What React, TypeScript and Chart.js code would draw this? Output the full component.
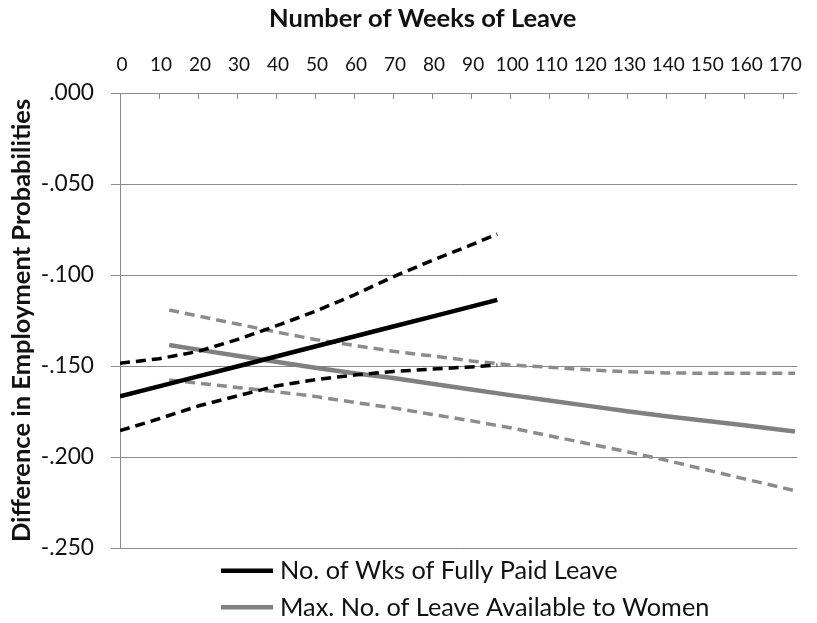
import React, { useEffect, useRef } from 'react';
import { Chart, registerables } from 'chart.js';

Chart.register(...registerables);

// ---- Data ----
const xTitle = 'Number of Weeks of Leave';
const yTitle = 'Difference in Employment Probabilities';
const legendLabels = ['No. of Wks of Fully Paid Leave', 'Max. No. of Leave Available to Women'];

const xTickValues = [0, 10, 20, 30, 40, 50, 60, 70, 80, 90, 100, 110, 120, 130, 140, 150, 160, 170];

const fullyPaidWeeks = [0, 10, 20, 30, 40, 50, 60, 70, 80, 90, 96.7];
const fullyPaidEst = [-0.1667, -0.1612, -0.1557, -0.1503, -0.1448, -0.1393, -0.1338, -0.1283, -0.1229, -0.1174, -0.1137];
const fullyPaidUpper = [-0.1485, -0.146, -0.142, -0.1355, -0.128, -0.12, -0.111, -0.101, -0.092, -0.0835, -0.0775];
const fullyPaidLower = [-0.1855, -0.179, -0.172, -0.1665, -0.161, -0.1575, -0.155, -0.153, -0.1517, -0.1505, -0.1495];

const maxLeaveWeeks = [12.6, 20, 30, 40, 50, 60, 70, 80, 90, 100, 110, 120, 130, 140, 150, 160, 173];
const maxLeaveEst = [-0.1385, -0.141, -0.1444, -0.1477, -0.151, -0.154, -0.1566, -0.1597, -0.1629, -0.166, -0.169, -0.1719, -0.1749, -0.1776, -0.1801, -0.1826, -0.186];
const maxLeaveUpper = [-0.1192, -0.1225, -0.1269, -0.1313, -0.1354, -0.1387, -0.1419, -0.1445, -0.1472, -0.1494, -0.1507, -0.1521, -0.1531, -0.1538, -0.154, -0.154, -0.154];
const maxLeaveLower = [-0.1577, -0.1594, -0.1618, -0.1641, -0.1667, -0.17, -0.173, -0.1766, -0.1801, -0.1839, -0.1883, -0.1927, -0.1971, -0.2018, -0.2069, -0.212, -0.2185];

const xMin = 0;
const xMax = 173.6;
const yMin = -0.25;
const yMax = 0;
const yStep = 0.05;

// ---- Styles ----
const FONT = 'Lato';
const textColor = '#111111';
const gridColor = '#8a8a8a';
const black = '#000000';
const graySolid = '#808080';
const grayDash = '#8c8c8c';

const formatY = (v: number) => {
  const r = Math.round(Math.abs(v) * 1000) / 1000;
  const s = r.toFixed(3).slice(1);
  return v < -1e-9 ? '-' + s : s;
};

const toPts = (xs: number[], ys: number[]) => xs.map((x, i) => ({ x, y: ys[i] }));

const decorPlugin = {
  id: 'decor',
  afterDraw(chart: any) {
    const { ctx, chartArea, scales } = chart;
    const xs = scales.x;
    ctx.save();
    // inward tick marks on the top axis
    ctx.strokeStyle = gridColor;
    ctx.lineWidth = 1;
    xs.ticks.forEach((t: any) => {
      const px = Math.round(xs.getPixelForValue(t.value)) + 0.5;
      ctx.beginPath();
      ctx.moveTo(px, chartArea.top);
      ctx.lineTo(px, chartArea.top + 6);
      ctx.stroke();
    });
    // top axis title
    ctx.font = `bold 25.5px ${FONT}`;
    ctx.fillStyle = textColor;
    ctx.textAlign = 'center';
    ctx.textBaseline = 'alphabetic';
    ctx.fillText(xTitle, chartArea.left + (chartArea.right - chartArea.left) * 0.447, 27);
    // legend (stacked, left aligned)
    const legendDatasets = chart.data.datasets.filter((d: any) => d.inLegend);
    ctx.font = `25.3px ${FONT}`;
    ctx.textAlign = 'left';
    legendDatasets.forEach((d: any, i: number) => {
      const y = chartArea.bottom + 22.7 + i * 36.6;
      const x0 = chartArea.left + 101;
      ctx.strokeStyle = d.borderColor;
      ctx.lineWidth = 4.5;
      ctx.setLineDash([]);
      ctx.beginPath();
      ctx.moveTo(x0, y);
      ctx.lineTo(x0 + 52, y);
      ctx.stroke();
      ctx.fillStyle = textColor;
      ctx.fillText(d.label, x0 + 59, y + 8.5);
    });
    ctx.restore();
  },
};

export default function App() {
  const ref = useRef<HTMLCanvasElement>(null);

  useEffect(() => {
    const base = { pointRadius: 0, pointHoverRadius: 0, fill: false, tension: 0, borderCapStyle: 'butt', borderJoinStyle: 'round' };
    const chart = new Chart(ref.current as HTMLCanvasElement, {
      type: 'line',
      data: {
        datasets: [
          { ...base, label: legendLabels[0], inLegend: true, data: toPts(fullyPaidWeeks, fullyPaidEst), borderColor: black, borderWidth: 4.5 },
          { ...base, label: 'Fully paid upper', data: toPts(fullyPaidWeeks, fullyPaidUpper), borderColor: black, borderWidth: 3.5, borderDash: [10, 6] },
          { ...base, label: 'Fully paid lower', data: toPts(fullyPaidWeeks, fullyPaidLower), borderColor: black, borderWidth: 3.5, borderDash: [10, 6] },
          { ...base, label: legendLabels[1], inLegend: true, data: toPts(maxLeaveWeeks, maxLeaveEst), borderColor: graySolid, borderWidth: 4.5 },
          { ...base, label: 'Max leave upper', data: toPts(maxLeaveWeeks, maxLeaveUpper), borderColor: grayDash, borderWidth: 3.5, borderDash: [10, 6] },
          { ...base, label: 'Max leave lower', data: toPts(maxLeaveWeeks, maxLeaveLower), borderColor: grayDash, borderWidth: 3.5, borderDash: [10, 6] },
        ] as any,
      },
      options: {
        animation: false,
        responsive: false,
        maintainAspectRatio: false,
        layout: { padding: { left: 0, right: 10, top: 0, bottom: 75 } },
        plugins: { legend: { display: false }, tooltip: { enabled: false }, title: { display: false } },
        scales: {
          x: {
            type: 'linear',
            position: 'top',
            min: xMin,
            max: xMax,
            afterBuildTicks: (s: any) => {
              s.ticks = xTickValues.map((value) => ({ value }));
            },
            afterFit: (s: any) => {
              s.height = 93;
            },
            ticks: { autoSkip: false, maxRotation: 0, padding: 17, labelOffset: 2, color: textColor, font: { family: FONT, size: 19 } },
            grid: { display: false, drawTicks: false },
            border: { display: false },
          },
          y: {
            type: 'linear',
            min: yMin,
            max: yMax,
            afterFit: (s: any) => {
              s.width = 120;
            },
            ticks: { stepSize: yStep, padding: 17, color: textColor, font: { family: FONT, size: 22.7 }, callback: (v: any) => formatY(Number(v)) },
            grid: { color: gridColor, lineWidth: 1, tickLength: 9 },
            border: { display: true, color: gridColor, width: 1 },
            title: { display: true, text: yTitle, color: textColor, padding: { top: 6, bottom: 0 }, font: { family: FONT, size: 25.5, weight: 'bold' } },
          },
        },
      } as any,
      plugins: [decorPlugin],
    });
    return () => chart.destroy();
  }, []);

  return (
    <div style={{ position: 'absolute', left: 0, top: 0, width: 817, height: 623, background: '#ffffff' }}>
      <canvas ref={ref} width={817} height={623} style={{ display: 'block' }} />
    </div>
  );
}
